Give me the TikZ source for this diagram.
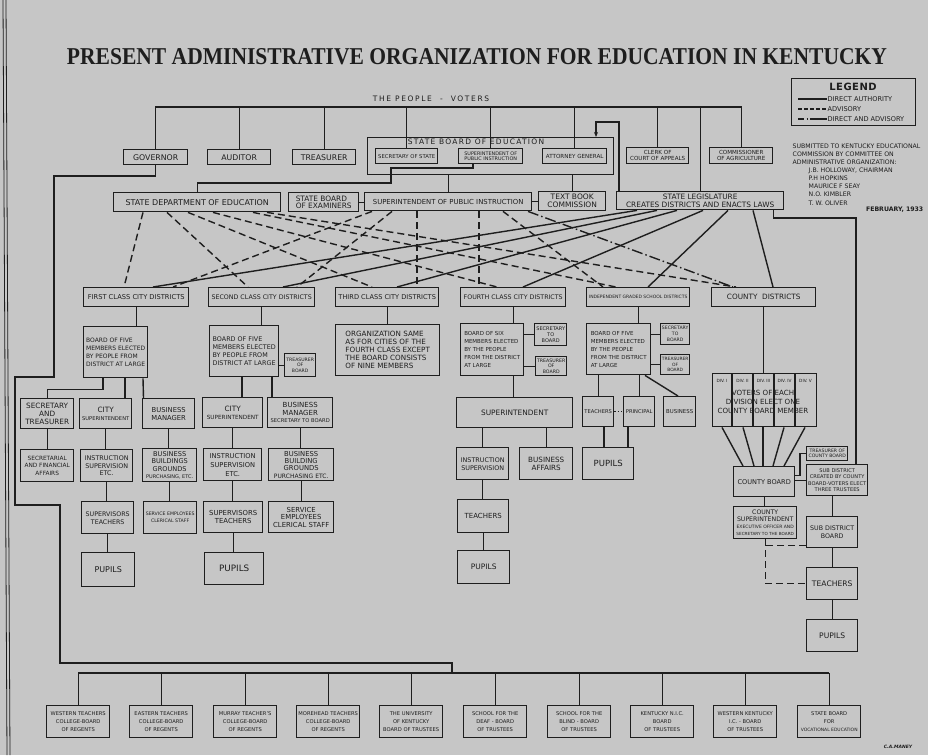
\documentclass[tikz,border=0pt]{standalone}
\usepackage{fontspec}
\setmainfont{DejaVu Sans}
\newfontfamily\titlefont{Liberation Serif}
\usetikzlibrary{arrows.meta}
\definecolor{paper}{RGB}{198,198,198}
\definecolor{ink}{RGB}{30,30,30}

\begin{document}
\begin{tikzpicture}[x=1pt, y=-1pt, line width=1.4pt, color=ink,
	box/.style={draw, anchor=north west, inner sep=1pt, align=center, font=\fontsize{6}{8}\selectfont},
	sz/.style 2 args={minimum width=#1pt, minimum height=#2pt},
	fs/.style 2 args={font=\fontsize{#1}{#2}\selectfont},
	txt/.style={inner sep=0pt, align=center},
	adv/.style={dash pattern=on 7pt off 4pt},
	dir adv/.style={dash pattern=on 11pt off 3pt on 1.5pt off 3pt}]
	\useasboundingbox (0,0) rectangle (928,755);
	\fill[paper] (0,0) rectangle (928,755);
	\draw[line width=0.8pt] (3,0) -- (7,755);
	\draw[line width=0.8pt] (6,0) -- (10,755);
	% title
	\node[txt] (title) at (477,57) {\resizebox{820pt}{16pt}{\titlefont\bfseries PRESENT ADMINISTRATIVE ORGANIZATION FOR EDUCATION IN KENTUCKY}};
	\node[txt, fs={7.5}{8}] (people) at (431,99) {\addfontfeature{LetterSpace=22}THE PEOPLE \ - \ VOTERS};
	\coordinate (vt) at (431,107);
	% legend
	\node[box, sz={124}{47}] (legend) at (791,78) {};
	\node[txt, font=\fontsize{10}{10}\selectfont\bfseries] (legt) at (853,87) {\addfontfeature{LetterSpace=5}LEGEND};
	\coordinate (l1) at (798,99);
	\coordinate (l2) at (798,109);
	\coordinate (l3) at (798,119);
	\draw[line width=1.1pt] (l1) -- ++(29,0) node[txt, right, fs={6.6}{7}] (lt1) {DIRECT AUTHORITY};
	\draw[line width=1.1pt, dash pattern=on 4pt off 2pt] (l2) -- ++(29,0) node[txt, right, fs={6.6}{7}] (lt2) {ADVISORY};
	\draw[line width=1.1pt, dash pattern=on 6pt off 2.5pt on 1pt off 2.5pt on 30pt] (l3) -- ++(29,0) node[txt, right, fs={6.6}{7}] (lt3) {DIRECT AND ADVISORY};
	\node[txt, anchor=north west, align=left, fs={6.2}{8.1}] (subm) at (792,143) {SUBMITTED TO KENTUCKY EDUCATIONAL\\COMMISSION BY COMMITTEE ON\\ADMINISTRATIVE ORGANIZATION:\\\hspace{16pt}J.B. HOLLOWAY, CHAIRMAN\\\hspace{16pt}P.H HOPKINS\\\hspace{16pt}MAURICE F SEAY\\\hspace{16pt}N.O. KIMBLER\\\hspace{16pt}T. W. OLIVER};
	\node[txt, anchor=east, font=\fontsize{6.2}{7}\selectfont\bfseries] (date) at (924,210) {FEBRUARY, 1933};
	% state officers
	\node[box, fs={7.8}{8}, sz={64}{15}] (gov) at (123,149) {GOVERNOR};
	\node[box, fs={7.8}{8}, sz={63}{15}] (aud) at (207,149) {AUDITOR};
	\node[box, fs={7.8}{8}, sz={63}{15}] (tre) at (292,149) {TREASURER};
	\node[box, sz={246}{37}] (sbe) at (367,137) {};
	\node[txt, fs={7.5}{8}] (sbel) at (476,142) {\addfontfeature{LetterSpace=17}STATE BOARD OF EDUCATION};
	\node[box, fs={5.3}{6}, sz={62}{15}] (sos) at (375,148) {SECRETARY OF STATE};
	\node[box, fs={4.9}{5.6}, sz={64}{15}] (spis) at (458,148) {SUPERINTENDENT OF\\PUBLIC INSTRUCTION};
	\node[box, fs={5.6}{6}, sz={64}{15}] (ag) at (542,148) {ATTORNEY GENERAL};
	\node[box, fs={5.6}{6}, sz={62}{16}] (clerk) at (626,147) {CLERK OF\\COURT OF APPEALS};
	\node[box, fs={5.6}{6}, sz={63}{16}] (comm) at (709,147) {COMMISSIONER\\OF AGRICULTURE};
	% state agencies
	\node[box, fs={8}{8}, sz={167}{19}] (sde) at (113,192) {STATE DEPARTMENT OF EDUCATION};
	\node[box, fs={7.4}{7.6}, align=left, sz={70}{19}] (sbex) at (288,192) {STATE BOARD\\OF EXAMINERS};
	\node[box, fs={6.9}{7}, sz={167}{18}] (spi) at (364,192) {SUPERINTENDENT OF PUBLIC INSTRUCTION};
	\node[box, fs={7.5}{8}, sz={67}{19}] (tbc) at (538,191) {TEXT BOOK\\COMMISSION};
	\node[box, fs={7.4}{7.8}, sz={167}{18}] (leg) at (616,191) {STATE LEGISLATURE\\CREATES DISTRICTS AND ENACTS LAWS};
	% districts
	\node[box, fs={6.7}{7}, sz={105}{19}] (d1) at (83,287) {FIRST CLASS CITY DISTRICTS};
	\node[box, fs={6.3}{7}, sz={106}{19}] (d2) at (208,287) {SECOND CLASS CITY DISTRICTS};
	\node[box, fs={6.6}{7}, sz={103}{19}] (d3) at (335,287) {THIRD CLASS CITY DISTRICTS};
	\node[box, fs={6.3}{7}, sz={105}{19}] (d4) at (460,287) {FOURTH CLASS CITY DISTRICTS};
	\node[box, fs={4.5}{5}, sz={103}{19}] (d5) at (586,287) {INDEPENDENT GRADED SCHOOL DISTRICTS};
	\node[box, fs={7.3}{8}, sz={104}{19}] (d6) at (711,287) {COUNTY \ DISTRICTS};
	% first class
	\node[box, fs={6}{8}, align=left, sz={64}{51}] (b1) at (83,326) {BOARD OF FIVE\\MEMBERS ELECTED\\BY PEOPLE FROM\\DISTRICT AT LARGE};
	\node[box, fs={7.3}{8}, sz={53}{30}] (st1) at (20,398) {SECRETARY\\AND\\TREASURER};
	\node[box, fs={5.2}{8}, sz={52}{30}] (cs1) at (79,398) {{\fontsize{7.3}{8}\selectfont CITY}\\SUPERINTENDENT};
	\node[box, fs={6.8}{8}, sz={52}{30}] (bm1) at (142,398) {BUSINESS\\MANAGER};
	\node[box, fs={5.8}{7.5}, sz={53}{32}] (sfa1) at (20,449) {SECRETARIAL\\AND FINANCIAL\\AFFAIRS};
	\node[box, fs={6.4}{7.5}, sz={52}{32}] (isu1) at (80,449) {INSTRUCTION\\SUPERVISION\\ETC.};
	\node[box, fs={6.6}{7.3}, sz={54}{33}] (bbg1) at (142,448) {BUSINESS\\BUILDINGS\\GROUNDS\\{\fontsize{5}{7.3}\selectfont PURCHASING, ETC.}};
	\node[box, fs={6.3}{8}, sz={52}{32}] (sut1) at (81,501) {SUPERVISORS\\TEACHERS};
	\node[box, fs={4.7}{7}, sz={53}{32}] (se1) at (143,501) {SERVICE EMPLOYEES\\CLERICAL STAFF};
	\node[box, fs={8}{8}, sz={53}{34}] (pu1) at (81,552) {PUPILS};
	% second class
	\node[box, fs={6.4}{8}, align=left, sz={69}{51}] (b2) at (209,325) {BOARD OF FIVE\\MEMBERS ELECTED\\BY PEOPLE FROM\\DISTRICT AT LARGE};
	\node[box, fs={4.6}{5.5}, sz={31}{23}] (tb2) at (284,353) {TREASURER\\OF\\BOARD};
	\node[box, fs={5.7}{8}, sz={60}{30}] (cs2) at (202,397) {{\fontsize{7.3}{8}\selectfont CITY}\\SUPERINTENDENT};
	\node[box, fs={7}{7.5}, sz={65}{30}] (bm2) at (267,397) {BUSINESS\\MANAGER\\{\fontsize{5.2}{7.5}\selectfont SECRETARY TO BOARD}};
	\node[box, fs={6.7}{9}, sz={58}{32}] (isu2) at (203,448) {INSTRUCTION\\SUPERVISION\\ETC.};
	\node[box, fs={6.8}{7.3}, sz={65}{32}] (bbg2) at (268,448) {BUSINESS\\BUILDING\\GROUNDS\\{\fontsize{6}{7.3}\selectfont PURCHASING ETC.}};
	\node[box, fs={6.9}{8}, sz={59}{31}] (sut2) at (203,501) {SUPERVISORS\\TEACHERS};
	\node[box, fs={6.9}{7.5}, sz={65}{31}] (se2) at (268,501) {SERVICE\\EMPLOYEES\\CLERICAL STAFF};
	\node[box, fs={8.8}{8}, sz={59}{32}] (pu2) at (204,552) {PUPILS};
	% third class
	\node[box, fs={7.2}{8}, align=left, sz={104}{51}] (org3) at (335,324) {ORGANIZATION SAME\\AS FOR CITIES OF THE\\FOURTH CLASS EXCEPT\\THE BOARD CONSISTS\\OF NINE MEMBERS};
	% fourth class
	\node[box, fs={5.5}{8}, align=left, sz={63}{52}] (b4) at (460,323) {BOARD OF SIX\\MEMBERS ELECTED\\BY THE PEOPLE\\FROM THE DISTRICT\\AT LARGE};
	\node[box, fs={5}{6}, sz={32}{22}] (st4) at (534,323) {SECRETARY\\TO\\BOARD};
	\node[box, fs={4.7}{5.5}, sz={31}{19}] (tb4) at (535,356) {TREASURER\\OF\\BOARD};
	\node[box, fs={7.4}{8}, sz={116}{30}] (sp4) at (456,397) {SUPERINTENDENT};
	\node[box, fs={6.4}{8}, sz={52}{32}] (isu4) at (456,447) {INSTRUCTION\\SUPERVISION};
	\node[box, fs={7.2}{8}, sz={53}{32}] (ba4) at (519,447) {BUSINESS\\AFFAIRS};
	\node[box, fs={7}{8}, sz={51}{33}] (te4) at (457,499) {TEACHERS};
	\node[box, fs={7.5}{8}, sz={52}{33}] (pu4) at (457,550) {PUPILS};
	% independent graded
	\node[box, fs={5.5}{8}, align=left, sz={64}{51}] (b5) at (586,323) {BOARD OF FIVE\\MEMBERS ELECTED\\BY THE PEOPLE\\FROM THE DISTRICT\\AT LARGE};
	\node[box, fs={4.6}{6}, sz={29}{21}] (st5) at (660,323) {SECRETARY\\TO\\BOARD};
	\node[box, fs={4.4}{5.5}, sz={29}{20}] (tb5) at (660,354) {TREASURER\\OF\\BOARD};
	\node[box, fs={5.2}{6}, sz={31}{30}] (te5) at (582,396) {TEACHERS};
	\node[box, fs={5.2}{6}, sz={31}{30}] (pr5) at (623,396) {PRINCIPAL};
	\node[box, fs={5.4}{6}, sz={32}{30}] (bu5) at (663,396) {BUSINESS};
	\node[box, fs={8.5}{8}, sz={51}{32}] (pu5) at (582,447) {PUPILS};
	% county
	\node[box, sz={104}{53}] (div) at (712,373) {};
	\node[box, fs={6.6}{8}, sz={61}{30}] (cb) at (733,466) {COUNTY BOARD};
	\node[box, fs={4.6}{5.2}, sz={41}{14}] (tcb) at (806,446) {TREASURER OF\\COUNTY BOARD};
	\node[box, fs={5.1}{6.5}, sz={61}{31}] (sub) at (806,464) {SUB DISTRICT\\CREATED BY COUNTY\\BOARD-VOTERS ELECT\\THREE TRUSTEES};
	\node[box, fs={6.2}{7}, sz={63}{32}] (csu) at (733,506) {COUNTY\\SUPERINTENDENT\\{\fontsize{4.5}{7}\selectfont EXECUTIVE OFFICER AND}\\{\fontsize{4.2}{7}\selectfont SECRETARY TO THE BOARD}};
	\node[box, fs={6.3}{7.5}, sz={51}{31}] (sdb) at (806,516) {SUB DISTRICT\\BOARD};
	\node[box, fs={7.6}{8}, sz={51}{32}] (te6) at (806,567) {TEACHERS};
	\node[box, fs={7.6}{8}, sz={51}{32}] (pu6) at (806,619) {PUPILS};
	\foreach \x in {20,41,62,83}
	  \draw ([xshift=\x pt]div.north west) -- ([xshift=\x pt]div.south west);
	\foreach \x/\r in {10/I, 30.5/II, 51.5/III, 72.5/IV, 93.5/V}
	  \node[txt, fs={4.3}{5}] (dv\r) at ([xshift=\x pt, yshift=-8pt]div.north west) {DIV. \r};
	\node[txt, fs={7.1}{8.7}] (divt) at (763,402) {VOTERS OF EACH\\DIVISION ELECT ONE\\COUNTY BOARD MEMBER};
	% institutions
	\foreach \i/\xl/\t in {1/46/{WESTERN TEACHERS\\COLLEGE-BOARD\\OF REGENTS}, 2/129/{EASTERN TEACHERS\\COLLEGE-BOARD\\OF REGENTS}, 3/213/{MURRAY TEACHER'S\\COLLEGE-BOARD\\OF REGENTS}, 4/296/{MOREHEAD TEACHERS\\COLLEGE-BOARD\\OF REGENTS}, 5/379/{THE UNIVERSITY\\OF KENTUCKY\\BOARD OF TRUSTEES}, 6/463/{SCHOOL FOR THE\\DEAF - BOARD\\OF TRUSTEES}, 7/547/{SCHOOL FOR THE\\BLIND - BOARD\\OF TRUSTEES}, 8/630/{KENTUCKY N.I.C.\\BOARD\\OF TRUSTEES}, 9/713/{WESTERN KENTUCKY\\I.C. - BOARD\\OF TRUSTEES}, 10/797/{STATE BOARD\\FOR\\{\fontsize{4.5}{8.3}\selectfont VOCATIONAL EDUCATION}}}
	  \node[box, fs={5.2}{8.3}, sz={63}{32}] (u\i) at (\xl,705) {\t};
	\node[txt, font=\fontsize{4.5}{5}\selectfont\bfseries\itshape] (sig) at (898,747) {C.A.MANEY};
	% people and state board
	\draw (gov.north) |- (comm.north |- vt) -- (comm.north);
	\foreach \n in {aud,tre,sos,spis,ag,clerk,leg}
	  \draw (\n.north) -- (\n.north |- vt);
	\coordinate (arr) at (596,122);
	\draw[-{Stealth[length=5pt,width=4pt]}] ([xshift=3pt]leg.north west) |- (arr) -- (arr |- sbe.north);
	\draw (tbc.north) -- (tbc.north |- sbe.south);
	\draw (spi.north) -- (spi.north |- sbe.south);
	\draw ([xshift=15pt]spis.south west) |- (391,168) |- (sde.north |- 0,183) -- (sde.north);
	\draw (sbex.east) -- (sbex.east -| spi.west);
	\draw (tbc.west) -- (tbc.west -| spi.east);
	\draw (gov.south) |- (54,176) |- (15,377) |- (60,505) |- (452,663) -- (452,673);
	\coordinate (rl) at ([xshift=50pt]sub.north west);
	\draw ([xshift=-11pt]leg.south east) |- (rl |- 0,218) -- (rl);
	% state to districts
	\foreach \n/\a/\b in {d1/30/41, d2/54/40, d3/75/37, d4/100/37, d5/140/30, d6/154/25}
	  \draw[adv] ([xshift=\a pt]sde.south west) -- ([xshift=\b pt]\n.north west);
	\foreach \n/\a/\b in {d1/8/90, d2/28/89, d3/53/82, d4/115/19, d5/139/17}
	  \draw[adv] ([xshift=\a pt]spi.south west) -- ([xshift=\b pt]\n.north west);
	\draw[dir adv] ([xshift=164pt]spi.south west) -- ([xshift=22pt]d6.north west);
	\foreach \n/\a/\b in {d1/21/70, d2/41/75, d3/61/62, d4/87/63, d5/112/62, d6/137/62}
	  \draw ([xshift=\a pt]leg.south west) -- ([xshift=\b pt]\n.north west);
	% district trees
	\foreach \n/\m in {d1/b1, d2/b2, d3/org3, d4/b4, d5/b5, d6/div, st1/sfa1, cs1/isu1, bm1/bbg1, isu1/sut1, bbg1/se1, sut1/pu1, cs2/isu2, bm2/bbg2, isu2/sut2, bbg2/se2, sut2/pu2, isu4/te4, te4/pu4, cb/csu, sdb/te6, te6/pu6}
	  \draw (\n.south) -- (\n.south |- \m.north);
	\draw ([xshift=20pt]b1.south west) -- ++(0,11) -| (st1.north);
	\draw ([xshift=42pt]b1.south west) -- ([xshift=46pt]cs1.north west);
	\draw ([xshift=60pt]b1.south west) -- ([xshift=1.5pt]bm1.north west);
	\draw (tb2.west) -- (tb2.west -| b2.east);
	\draw ([xshift=33pt]b2.south west) -- ([xshift=40pt]cs2.north west);
	\draw ([xshift=63pt]b2.south west) -- ([xshift=5pt]bm2.north west);
	\foreach \n in {st4,tb4}
	  \draw (\n.west) -- (\n.west -| b4.east);
	\draw (b4.south -| d4.south) -- (sp4.north -| d4.south);
	\foreach \n in {isu4,ba4}
	  \draw (\n.north) -- (\n.north |- sp4.south);
	\foreach \n in {st5,tb5}
	  \draw (\n.west) -- (\n.west -| b5.east);
	\foreach \n in {te5,pr5}
	  \draw (\n.north) -- (\n.north |- b5.south);
	\draw ([xshift=59pt]b5.south west) -- ([xshift=15pt]bu5.north west);
	\draw[line width=1.2pt, dotted] (te5) -- (pr5);
	\draw ([xshift=22pt]te5.south west) -- ([xshift=22pt]pu5.north west);
	\draw ([xshift=5pt]pr5.south west) -- ([xshift=46pt]pu5.north west);
	\foreach \a/\b in {10/10, 31/21, 51/30, 72/40, 93/51}
	  \draw ([xshift=\a pt]div.south west) -- ([xshift=\b pt]cb.north west);
	\draw (sub.west) -- (sub.west -| cb.east);
	\draw ([yshift=6pt]cb.east) -| ([xshift=-6pt]tcb.west) -- (tcb.west);
	\draw (sdb.north) -- (sdb.north |- sub.south);
	\draw[adv] (csu.south) |- (te6.west);
	\draw[adv] ([yshift=3pt]sdb.south west) -| (csu.south);
	% institutions bus
	\foreach \i in {1,...,10}
	  \draw (u\i.north) -- (u\i.north |- 0,673);
	\draw (u1.north |- 0,673) -- (u10.north |- 0,673);
\end{tikzpicture}
\end{document}
